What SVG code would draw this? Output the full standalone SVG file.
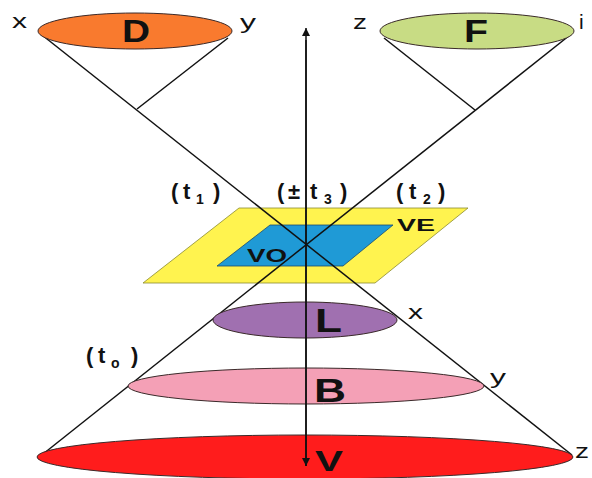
<svg xmlns="http://www.w3.org/2000/svg" width="592" height="478" viewBox="0 0 592 478">
<defs>
<style>
.ln{stroke:#111;stroke-width:1.5;fill:none}
.el{stroke:#3a2a2a;stroke-width:1}
.big{font-family:"Liberation Sans",Arial,sans-serif;font-weight:bold;fill:#111}
.lab{font-family:"Liberation Sans",Arial,sans-serif;font-size:21px;fill:#111}
.t{font-family:"Liberation Sans",Arial,sans-serif;font-size:22px;font-weight:bold;fill:#111}
.sub{font-size:14px}
</style>
<marker id="ah" viewBox="0 0 10 10" refX="10" refY="5" markerWidth="8" markerHeight="8" markerUnits="userSpaceOnUse" orient="auto">
<path d="M0,0 L10,5 L0,10 z" fill="#111"/>
</marker>
</defs>
<rect width="592" height="478" fill="#fff"/>
<g id="VE"><polygon points="239,208 468,208 375,283 143,283" fill="#fff34f" stroke="#8a8a30" stroke-width="0.8"/></g>
<g id="VO"><polygon points="270,225 393,225 343,266 217,266" fill="#1f9ad6" stroke="#1a4a70" stroke-width="0.8"/></g>
<g id="connectors">
<line class="ln" x1="42" y1="35" x2="572" y2="455"/>
<line class="ln" x1="570" y1="35" x2="38" y2="458"/>
<line class="ln" x1="228" y1="38" x2="137" y2="109"/>
<line class="ln" x1="384" y1="38" x2="475" y2="110"/>
</g>
<g id="D"><ellipse class="el" cx="135" cy="31" rx="97" ry="18" fill="#f97a2e"/><text class="big" x="122" y="42" font-size="31" textLength="28" lengthAdjust="spacingAndGlyphs">D</text></g>
<g id="F"><ellipse class="el" cx="477" cy="31" rx="97" ry="18" fill="#c8dc84"/><text class="big" x="464" y="42" font-size="31" textLength="24" lengthAdjust="spacingAndGlyphs">F</text></g>
<g id="L"><ellipse class="el" cx="305" cy="320" rx="92" ry="18" fill="#a070b0"/><text class="big" x="315" y="332" font-size="33" textLength="27" lengthAdjust="spacingAndGlyphs">L</text></g>
<g id="B"><ellipse class="el" cx="306" cy="386" rx="178" ry="18" fill="#f4a0b6"/><text class="big" x="314" y="402" font-size="34" textLength="32" lengthAdjust="spacingAndGlyphs">B</text></g>
<g id="V"><ellipse class="el" cx="305" cy="457" rx="268" ry="22" fill="#ff1c1c"/><text class="big" x="315" y="471" font-size="29" textLength="28" lengthAdjust="spacingAndGlyphs">V</text></g>
<g id="axis">
<line class="ln" x1="306" y1="466" x2="306" y2="28" marker-end="url(#ah)"/>
<line class="ln" x1="306" y1="40" x2="306" y2="466" marker-end="url(#ah)"/>
</g>
<g id="labels">
<text class="lab" x="12" y="28" textLength="15" lengthAdjust="spacingAndGlyphs">x</text>
<text class="lab" x="240" y="29" textLength="16" lengthAdjust="spacingAndGlyphs">y</text>
<text class="lab" x="353" y="29" textLength="14" lengthAdjust="spacingAndGlyphs">z</text>
<text class="lab" x="579" y="29">i</text>
<text class="lab" x="408" y="319" textLength="15" lengthAdjust="spacingAndGlyphs">x</text>
<text class="lab" x="490" y="384" textLength="16" lengthAdjust="spacingAndGlyphs">y</text>
<text class="lab" x="575" y="458" textLength="14" lengthAdjust="spacingAndGlyphs">z</text>
<text class="t"><tspan x="171" y="199">(</tspan><tspan x="183" y="199">t</tspan><tspan class="sub" x="196" y="204">1</tspan><tspan x="213" y="199">)</tspan></text>
<text class="t"><tspan x="277" y="199">(</tspan><tspan x="288" y="199">±</tspan><tspan x="310" y="199">t</tspan><tspan class="sub" x="324" y="204">3</tspan><tspan x="340" y="199">)</tspan></text>
<text class="t"><tspan x="396" y="199">(</tspan><tspan x="409" y="199">t</tspan><tspan class="sub" x="423" y="204">2</tspan><tspan x="438" y="199">)</tspan></text>
<text class="t" font-weight="normal"><tspan x="86" y="363">(</tspan><tspan x="98" y="363">t</tspan><tspan class="sub" x="111" y="368">o</tspan><tspan x="131" y="363">)</tspan></text>
<text class="big" x="397" y="231" font-size="17" textLength="38" lengthAdjust="spacingAndGlyphs">VE</text>
<text class="big" x="247" y="262" font-size="19" textLength="40" lengthAdjust="spacingAndGlyphs">VO</text>
</g>
</svg>
